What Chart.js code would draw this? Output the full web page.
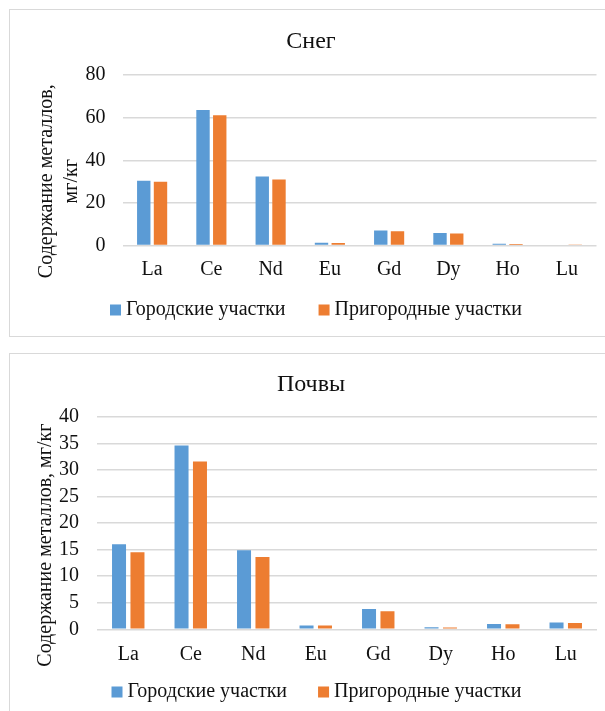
<!DOCTYPE html>
<html lang="ru">
<head>
<meta charset="utf-8">
<title>Содержание металлов</title>
<script src="https://cdn.jsdelivr.net/npm/chart.js@4/dist/chart.umd.min.js"></script>
<style>
  html, body { margin: 0; padding: 0; background: #fff; }
  body { position: relative; width: 605px; height: 711px; overflow: hidden; }
  .frame { position: absolute; border: 1.5px solid #d9d9d9; box-sizing: border-box; }
  #frameSnow { left: 9px; top: 9px; width: 620px; height: 328px; }
  #frameSoil { left: 9px; top: 353px; width: 620px; height: 400px; }
  canvas { position: absolute; left: 0; }
  #snow { top: 0; }
  #soil { top: 345px; }
</style>
</head>
<body>
<div class="frame" id="frameSnow"></div>
<div class="frame" id="frameSoil"></div>
<canvas id="snow" width="605" height="340"></canvas>
<canvas id="soil" width="605" height="366"></canvas>
<script>
// Elements
const elements = ['La', 'Ce', 'Nd', 'Eu', 'Gd', 'Dy', 'Ho', 'Lu'];
const seriesNames = ['Городские участки', 'Пригородные участки'];

// Snow, mg/kg
const snowUrban    = [30.4, 63.6, 32.4, 1.3, 7.0, 5.9, 0.8, 0.3];
const snowSuburban = [29.9, 61.1, 31.0, 1.2, 6.7, 5.6, 0.7, 0.25];
const snowTicks = [0, 20, 40, 60, 80];

// Soil, mg/kg
const soilUrban    = [16.0, 34.6, 14.9, 0.7, 3.8, 0.37, 1.0, 1.3];
const soilSuburban = [14.5, 31.6, 13.6, 0.7, 3.4, 0.32, 0.95, 1.2];
const soilTicks = [0, 5, 10, 15, 20, 25, 30, 35, 40];

const BLUE = '#5B9BD5';
const ORANGE = '#ED7D31';
const FONT = 'Liberation Serif, Times New Roman, serif';
const TEXT = '#111';

// Rotated axis title drawn beside the value axis
const axisTitlePlugin = {
  id: 'axisTitle',
  afterDraw(chart, args, opts) {
    const { ctx, chartArea } = chart;
    ctx.save();
    ctx.font = opts.size + 'px ' + FONT;
    ctx.fillStyle = TEXT;
    ctx.textAlign = 'center';
    ctx.textBaseline = 'middle';
    const cy = (chartArea.top + chartArea.bottom) / 2 + opts.shift;
    opts.lines.forEach((line, i) => {
      ctx.save();
      ctx.translate(opts.xs[i], cy);
      ctx.rotate(-Math.PI / 2);
      ctx.fillText(line, 0, 0);
      ctx.restore();
    });
    ctx.restore();
  }
};

// Compact legend row under the category axis: square swatch, short gap, label
const seriesKeyPlugin = {
  id: 'seriesKey',
  afterDraw(chart, args, opts) {
    const { ctx } = chart;
    ctx.save();
    ctx.font = opts.size + 'px ' + FONT;
    ctx.textBaseline = 'middle';
    ctx.textAlign = 'left';
    const items = chart.data.datasets.map(ds => ({
      text: ds.label, color: ds.backgroundColor, w: ctx.measureText(ds.label).width
    }));
    const total = items.reduce((s, it) => s + opts.box + opts.gap + it.w, 0)
                + opts.spacing * (items.length - 1);
    let x = opts.cx - total / 2;
    items.forEach(it => {
      ctx.fillStyle = it.color;
      ctx.fillRect(x, opts.y - opts.box / 2, opts.box, opts.box);
      ctx.fillStyle = TEXT;
      ctx.fillText(it.text, x + opts.box + opts.gap, opts.y);
      x += opts.box + opts.gap + it.w + opts.spacing;
    });
    ctx.restore();
  }
};

function makeChart(id, title, urban, suburban, ticks, cfg) {
  const yMax = ticks[ticks.length - 1];
  const step = ticks[1] - ticks[0];
  return new Chart(document.getElementById(id), {
    type: 'bar',
    data: {
      labels: elements,
      datasets: [
        { label: seriesNames[0], data: urban, backgroundColor: BLUE, borderWidth: 0 },
        { label: seriesNames[1], data: suburban, backgroundColor: ORANGE, borderWidth: 0 }
      ]
    },
    options: {
      responsive: false,
      animation: false,
      devicePixelRatio: 1,
      categoryPercentage: cfg.cat,
      barPercentage: cfg.bar,
      layout: { padding: { left: cfg.padL, right: cfg.padR, top: 0, bottom: cfg.padB } },
      plugins: {
        title: {
          display: true, text: title, color: TEXT,
          font: { family: FONT, size: 24, weight: 'normal' },
          padding: { top: cfg.titleTop, bottom: cfg.titleBottom }
        },
        legend: { display: false },
        tooltip: { enabled: false },
        axisTitle: cfg.axisTitle,
        seriesKey: cfg.key
      },
      scales: {
        x: {
          grid: { display: false, drawTicks: false },
          border: { display: false },
          ticks: { color: TEXT, padding: cfg.xPad, font: { family: FONT, size: 20 } }
        },
        y: {
          min: 0, max: yMax,
          afterFit(scale) { scale.width = cfg.yWidth; },
          afterBuildTicks(scale) { scale.ticks = ticks.map(v => ({ value: v })); },
          grid: { color: '#d9d9d9', lineWidth: 1.5, drawTicks: false },
          border: { display: false },
          ticks: { stepSize: step, autoSkip: false, color: TEXT, padding: cfg.yPad,
                   font: { family: FONT, size: 20 } }
        }
      }
    },
    plugins: [axisTitlePlugin, seriesKeyPlugin]
  });
}

makeChart('snow', 'Снег', snowUrban, snowSuburban, snowTicks, {
  cat: 0.565, bar: 0.8, padL: 25.5, padR: 8.5, padB: 45.5, yWidth: 97, yPad: 17,
  titleTop: 27.6, titleBottom: 18.6, xPad: 12.5,
  axisTitle: { lines: ['Содержание металлов,', 'мг/кг'], xs: [47, 72], size: 20, shift: 21 },
  key: { cx: 316, y: 310, box: 11, gap: 5, spacing: 33, size: 20 }
});

makeChart('soil', 'Почвы', soilUrban, soilSuburban, soilTicks, {
  cat: 0.59, bar: 0.76, padL: 25, padR: 8, padB: 30.3, yWidth: 72, yPad: 18,
  titleTop: 25.6, titleBottom: 17.5, xPad: 13.7,
  axisTitle: { lines: ['Содержание металлов, мг/кг'], xs: [46], size: 20, shift: 22 },
  key: { cx: 316.5, y: 347, box: 11, gap: 5, spacing: 31, size: 20 }
});
</script>
</body>
</html>
